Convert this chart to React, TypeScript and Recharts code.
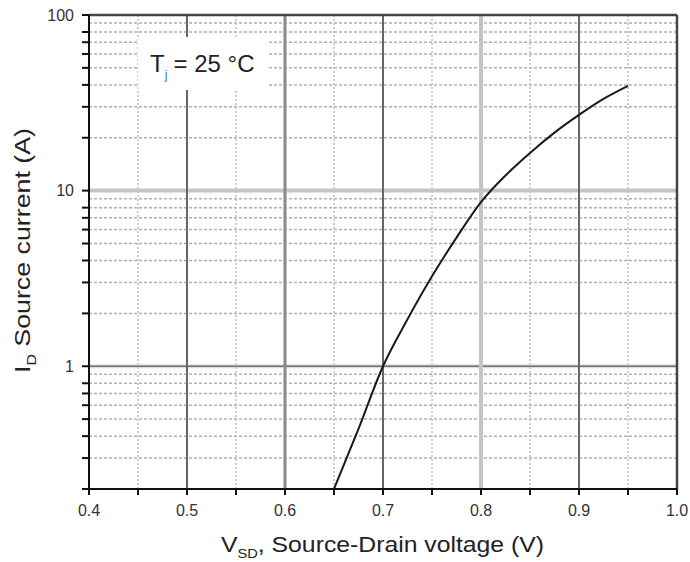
import React from "react";
import {
  LineChart,
  Line,
  XAxis,
  YAxis,
  ReferenceLine,
} from "recharts";

// forward characteristic of the body diode, Tj = 25 °C
const voltage = [0.65, 0.675, 0.7, 0.725, 0.75, 0.775, 0.8, 0.825, 0.85, 0.875, 0.9, 0.925, 0.95];
const current = [0.2, 0.44, 1.0, 1.85, 3.25, 5.4, 8.6, 12.2, 16.4, 21.4, 27.0, 33.3, 39.5];

const xTicks = [0.4, 0.45, 0.5, 0.55, 0.6, 0.65, 0.7, 0.75, 0.8, 0.85, 0.9, 0.95, 1.0];
const yTicks = [
  0.2, 0.3, 0.4, 0.5, 0.6, 0.7, 0.8, 0.9, 1, 2, 3, 4, 5, 6, 7, 8, 9, 10,
  20, 30, 40, 50, 60, 70, 80, 90, 100,
];
const yLabels = [1, 10, 100];

const xMinorGrid = [0.45, 0.55, 0.65, 0.75, 0.85, 0.95];
const xDarkGrid = [0.5, 0.7, 0.9];
const yMinorGrid = [
  0.3, 0.4, 0.5, 0.6, 0.7, 0.8, 0.9, 2, 3, 4, 5, 6, 7, 8, 9,
  20, 30, 40, 50, 60, 70, 80, 90,
];

const data = voltage.map((v, i) => ({ v, i: current[i] }));

const FONT = "'Liberation Sans', Arial, sans-serif";

export default function App() {
  return (
    <div style={{ position: "absolute", left: 0, top: 0, width: 690, height: 562, background: "#fff" }}>
      <LineChart
        width={690}
        height={562}
        data={data}
        margin={{ top: 15, right: 13, left: 0, bottom: 0 }}
      >
        <XAxis
          dataKey="v"
          type="number"
          domain={[0.4, 1.0]}
          ticks={xTicks}
          height={73}
          tickSize={6}
          tickMargin={10}
          stroke="#111"
          strokeWidth={2}
          tick={{ fill: "#333", fontSize: 16, fontFamily: FONT }}
          tickFormatter={(v: number) =>
            Math.round(v * 100) % 10 === 0 ? v.toFixed(1) : ""
          }
        />
        <YAxis
          dataKey="i"
          scale="log"
          domain={[0.2, 100]}
          allowDataOverflow
          ticks={yTicks}
          width={89}
          tickSize={7}
          tickMargin={8}
          stroke="#111"
          strokeWidth={2}
          tick={{ fill: "#333", fontSize: 16, fontFamily: FONT }}
          tickFormatter={(v: number) => (yLabels.includes(v) ? String(v) : "")}
        />

        {yMinorGrid.map((y) => (
          <ReferenceLine key={"ym" + y} y={y} stroke="#b0b0b0" strokeWidth={1.5} strokeDasharray="3 2" />
        ))}
        {xMinorGrid.map((x) => (
          <ReferenceLine key={"xm" + x} x={x} stroke="#c0c0c0" strokeWidth={1.5} strokeDasharray="2 2" />
        ))}
        <ReferenceLine y={10} stroke="#c4c4c4" strokeWidth={4} />
        <ReferenceLine y={1} stroke="#dcdcdc" strokeWidth={4} />
        <ReferenceLine y={1} stroke="#707070" strokeWidth={1.5} />
        <ReferenceLine x={0.8} stroke="#c4c4c4" strokeWidth={4} />
        <ReferenceLine x={0.6} stroke="#8a8a8a" strokeWidth={3} />
        {xDarkGrid.map((x) => (
          <ReferenceLine key={"xd" + x} x={x} stroke="#666" strokeWidth={2} />
        ))}
        <ReferenceLine y={100} stroke="#444" strokeWidth={2.5} />
        <ReferenceLine x={1.0} stroke="#444" strokeWidth={2.5} />

        <Line
          type="monotone"
          dataKey="i"
          stroke="#1a1a1a"
          strokeWidth={2}
          dot={false}
          isAnimationActive={false}
        />
      </LineChart>

      <svg
        width={690}
        height={562}
        style={{ position: "absolute", left: 0, top: 0, pointerEvents: "none" }}
        fontFamily={FONT}
      >
        <rect x={138} y={37} width={130} height={53} fill="#fff" />
        <text x={150} y={72} fontSize={24} fill="#222">
          T
          <tspan fontSize={13} dy={7} fill="#4a7fc0">j</tspan>
          <tspan dy={-7} dx={6}>= 25 °C</tspan>
        </text>

        <text
          x={221}
          y={552}
          fontSize={22}
          fill="#222"
          textLength={323}
          lengthAdjust="spacingAndGlyphs"
        >
          V
          <tspan fontSize={13} dy={6}>SD</tspan>
          <tspan dy={-6}>, Source-Drain voltage (V)</tspan>
        </text>

        <text
          transform="translate(30,373) rotate(-90)"
          x={0}
          y={0}
          fontSize={22}
          fill="#222"
          textLength={245}
          lengthAdjust="spacingAndGlyphs"
        >
          I
          <tspan fontSize={13} dy={6}>D</tspan>
          <tspan dy={-6}> Source current (A)</tspan>
        </text>
      </svg>
    </div>
  );
}
